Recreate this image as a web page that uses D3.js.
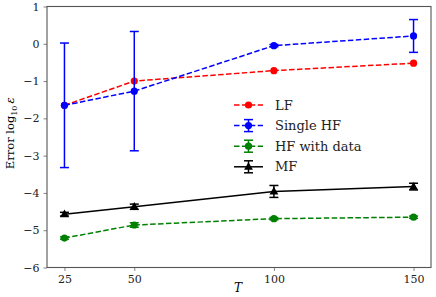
<!DOCTYPE html>
<html lang="en">
<head>
<meta charset="utf-8">
<title>error vs T</title>
<script src="https://d3js.org/d3.v7.min.js"></script>
<style>
  body{margin:0;background:#fff;}
</style>
</head>
<body>
<div id="chart"></div>
<script>
var Ts = [25, 50, 100, 150]
var xTicks = [25, 50, 100, 150]
var yTicks = [1, 0, -1, -2, -3, -4, -5, -6]

var lfVals = [-1.65, -1.0, -0.72, -0.52]
var lfErr = [0, 0, 0, 0]
var singleVals = [-1.65, -1.27, -0.05, 0.21]
var singleErr = [1.67, 1.6, 0.03, 0.44]
var hfDataVals = [-5.21, -4.86, -4.69, -4.65]
var hfDataErr = [0.03, 0.06, 0.03, 0.03]
var mfVals = [-4.57, -4.37, -3.96, -3.83]
var mfErr = [0.05, 0.07, 0.16, 0.09]

var seriesNames = ["LF", "Single HF", "HF with data", "MF"]
var series = [
  {name: seriesNames[0], vals: lfVals, err: lfErr, color: "#ff0000", dash: "5.5,2.4", marker: "circle", cap: false},
  {name: seriesNames[1], vals: singleVals, err: singleErr, color: "#0000ff", dash: "5.5,2.4", marker: "circle", cap: true},
  {name: seriesNames[2], vals: hfDataVals, err: hfDataErr, color: "#008000", dash: "5.5,2.4", marker: "circle", cap: true},
  {name: seriesNames[3], vals: mfVals, err: mfErr, color: "#000000", dash: null, marker: "triangle", cap: true}
]

var FONT = "'DejaVu Serif', serif"
var W = 436, H = 297
var m = {left: 47, right: 5, top: 6.5, bottom: 29.5}

var svg = d3.select("#chart").append("svg").attr("width", W).attr("height", H)
  .attr("font-family", FONT)

var x = d3.scaleLinear().domain([18.75, 156.25]).range([m.left, W - m.right])
var y = d3.scaleLinear().domain([-6, 1]).range([H - m.bottom, m.top])

// axes
var xAxis = svg.append("g").attr("transform", "translate(0," + (H - m.bottom) + ")")
  .call(d3.axisBottom(x).tickValues(xTicks).tickSize(3.5).tickPadding(4))
var yAxis = svg.append("g").attr("transform", "translate(" + m.left + ",0)")
  .call(d3.axisLeft(y).tickValues(yTicks).tickSize(3.5).tickPadding(4)
    .tickFormat(function(d){ return d < 0 ? "\u2212" + Math.abs(d) : d }))
xAxis.attr("font-family", FONT)
yAxis.attr("font-family", FONT)
svg.selectAll(".domain").remove()
svg.selectAll(".tick line").attr("stroke", "#777").attr("stroke-width", 0.9)
svg.selectAll(".tick text").attr("font-size", 11).attr("fill", "#222")

// frame
svg.append("rect").attr("x", m.left).attr("y", m.top)
  .attr("width", W - m.left - m.right).attr("height", H - m.top - m.bottom)
  .attr("fill", "none").attr("stroke", "#555").attr("stroke-width", 1.1)

// labels
svg.append("text").attr("x", 238).attr("y", 292).attr("text-anchor", "middle")
  .attr("font-size", 12).attr("font-style", "italic").text("T")
var yl = svg.append("text").attr("transform", "translate(14," + y(-2.4) + ") rotate(-90)")
  .attr("text-anchor", "middle").attr("font-size", 11.5)
yl.append("tspan").text("Error log")
yl.append("tspan").attr("font-size", 8).attr("dy", 3).text("10")
yl.append("tspan").attr("font-size", 11.5).attr("dy", -3).attr("dx", 2).attr("font-style", "italic").text("\u03b5")

var line = d3.line().x(function(d){ return x(d[0]) }).y(function(d){ return y(d[1]) })
var tri = d3.symbol().type(d3.symbolTriangle).size(34)

function drawMarker(g, mk, cx, cy, color){
  if(mk === "circle"){
    g.append("circle").attr("cx", cx).attr("cy", cy).attr("r", 3.6).attr("fill", color)
  } else {
    g.append("path").attr("d", tri).attr("transform", "translate(" + cx + "," + (cy + 0.5) + ")").attr("fill", color)
  }
}

series.forEach(function(s){
  var g = svg.append("g")
  var pts = Ts.map(function(t, i){ return [t, s.vals[i]] })
  g.append("path").attr("d", line(pts)).attr("fill", "none")
    .attr("stroke", s.color).attr("stroke-width", 1.5)
    .attr("stroke-dasharray", s.dash)
  if(s.cap){
    Ts.forEach(function(t, i){
      var e = s.err[i]
      if(!e) return
      var cx = x(t), y0 = y(s.vals[i] - e), y1 = y(s.vals[i] + e)
      g.append("line").attr("x1", cx).attr("x2", cx).attr("y1", y0).attr("y2", y1)
        .attr("stroke", s.color).attr("stroke-width", 1.5)
      ;[y0, y1].forEach(function(yy){
        g.append("line").attr("x1", cx - 4.5).attr("x2", cx + 4.5).attr("y1", yy).attr("y2", yy)
          .attr("stroke", s.color).attr("stroke-width", 1.5)
      })
    })
  }
  Ts.forEach(function(t, i){ drawMarker(g, s.marker, x(t), y(s.vals[i]), s.color) })
})

// legend
var lg = svg.append("g").attr("transform", "translate(234,105)")
series.forEach(function(s, i){
  var yy = i * 20.6
  var g = lg.append("g").attr("transform", "translate(0," + yy + ")")
  g.append("line").attr("x1", 0).attr("x2", 29).attr("y1", 0).attr("y2", 0)
    .attr("stroke", s.color).attr("stroke-width", 1.5).attr("stroke-dasharray", s.dash)
  if(s.cap){
    g.append("line").attr("x1", 14.5).attr("x2", 14.5).attr("y1", -6).attr("y2", 6)
      .attr("stroke", s.color).attr("stroke-width", 1.5)
    ;[-6, 6].forEach(function(v){
      g.append("line").attr("x1", 10).attr("x2", 19).attr("y1", v).attr("y2", v)
        .attr("stroke", s.color).attr("stroke-width", 1.5)
    })
  }
  drawMarker(g, s.marker, 14.5, 0, s.color)
  g.append("text").attr("x", 41).attr("y", 4.5).attr("font-size", 13).attr("fill", "#222")
    .text(s.name)
})
</script>
</body>
</html>
